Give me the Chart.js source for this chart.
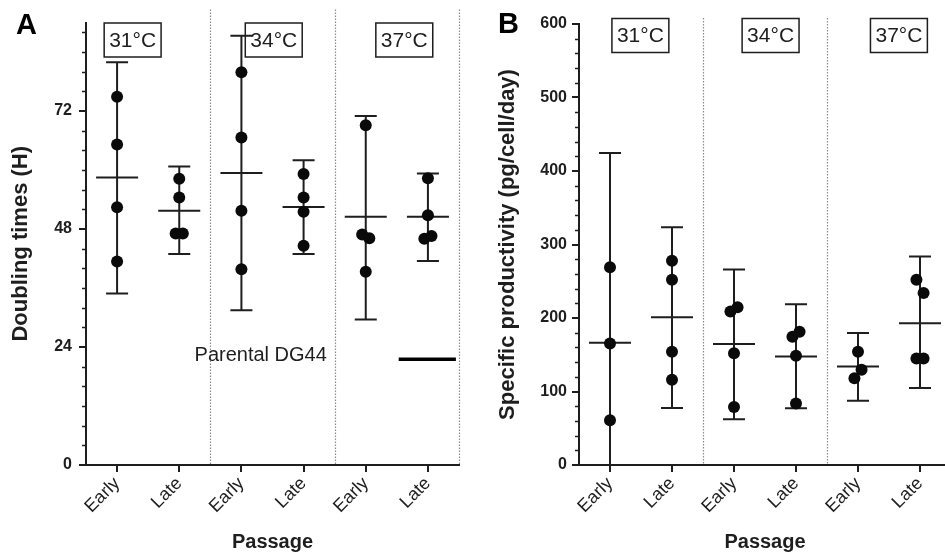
<!DOCTYPE html>
<html><head><meta charset="utf-8">
<script src="https://cdn.jsdelivr.net/npm/chart.js@4.4.1/dist/chart.umd.min.js"></script>
<style>
html,body{margin:0;padding:0;background:#fff;overflow:hidden;width:945px;height:557px;}
#wrap{position:relative;width:945px;height:557px;overflow:hidden;}
canvas{position:absolute;top:0;}
#cA{left:0;} #cB{left:472px;}
</style></head><body>
<div id="wrap"><canvas id="cA" width="472" height="557"></canvas><canvas id="cB" width="490" height="557"></canvas></div>
<script>
// ---------- data ----------
const passages = ['Early', 'Late', 'Early', 'Late', 'Early', 'Late'];
const temperatures = ['31°C', '34°C', '37°C'];

// Panel A: doubling times (H), individual values per group
const doublingValues = [
  [74.9, 65.2, 52.4, 41.4],
  [58.2, 54.4, 47.1, 47.1],
  [79.9, 66.6, 51.7, 39.8],
  [59.2, 54.4, 51.5, 44.6],
  [69.1, 46.9, 46.1, 39.3],
  [58.3, 50.8, 46.0, 46.6]
];
const doublingMean = [58.5, 51.7, 59.4, 52.5, 50.5, 50.5];
const doublingLower = [34.9, 42.9, 31.5, 42.9, 29.6, 41.5];
const doublingUpper = [81.9, 60.7, 87.3, 62.0, 71.0, 59.3];
const parentalDG44 = 21.5;
const doublingTicks = [0, 24, 48, 72];

// Panel B: specific productivity (pg/cell/day)
const productivityValues = [
  [269, 165.4, 61],
  [278, 252, 154, 116],
  [209, 214.5, 152, 79],
  [174.5, 181.4, 148.6, 83.6],
  [154, 118, 129.5],
  [252, 234, 145, 145]
];
const productivityMean = [166.4, 200.9, 164.5, 147.7, 134, 193];
const productivityLower = [-93, 77.7, 62.3, 77.3, 87.3, 104.6];
const productivityUpper = [424.5, 323.6, 266, 218.6, 179.6, 283.6];
const productivityTicks = [0, 100, 200, 300, 400, 500, 600];

// ---------- styling helpers ----------
const FONT = '"Liberation Sans", Arial, Helvetica, sans-serif';
const INK = '#1e1e1e';

// spread overlapping points side by side (like a scatter dot plot)
function spreadPoints(groups, threshold, step) {
  const pts = [];
  groups.forEach((vals, gi) => {
    const order = vals.map((v, i) => i).sort((a, b) => vals[a] - vals[b]);
    const clusters = [];
    order.forEach(i => {
      const last = clusters[clusters.length - 1];
      if (last && Math.abs(vals[i] - vals[last[last.length - 1]]) < threshold) last.push(i);
      else clusters.push([i]);
    });
    clusters.forEach(c => {
      c.sort((a, b) => a - b);
      c.forEach((i, k) => {
        const off = (k - (c.length - 1) / 2) * step;
        pts.push({x: gi + off, y: vals[i]});
      });
    });
  });
  return pts;
}

const decor = {
  id: 'decor',
  beforeDatasetsDraw(chart, args, o) {
    const {ctx, chartArea: a, scales: {x, y}} = chart;
    ctx.save();
    // minor ticks
    ctx.strokeStyle = INK; ctx.lineWidth = 1.5;
    for (let v = 0; v <= y.max + 1e-9; v += o.minorStep) {
      if (o.majorTicks.indexOf(v) >= 0) continue;
      const py = Math.round(y.getPixelForValue(v)) + 0.5;
      ctx.beginPath(); ctx.moveTo(a.left - 4, py); ctx.lineTo(a.left, py); ctx.stroke();
    }
    // dotted dividers between temperatures
    ctx.strokeStyle = '#8c8c8c'; ctx.lineWidth = 1.2; ctx.setLineDash([1.5, 1.5]);
    o.dividers.forEach(d => {
      const px = Math.round(x.getPixelForValue(d)) + 0.5;
      ctx.beginPath(); ctx.moveTo(px, a.top - o.dividerOverhang); ctx.lineTo(px, a.bottom); ctx.stroke();
    });
    ctx.setLineDash([]);
    // temperature boxes
    ctx.font = '21px ' + FONT; ctx.textAlign = 'center'; ctx.textBaseline = 'middle';
    temperatures.forEach((t, i) => {
      const cx = x.getPixelForValue(o.boxX[i]);
      const w = ctx.measureText(t).width + 10, h = 34, top = a.top + o.boxTop;
      ctx.fillStyle = '#fff'; ctx.fillRect(cx - w / 2, top, w, h);
      ctx.strokeStyle = INK; ctx.lineWidth = 1.5; ctx.strokeRect(cx - w / 2, top, w, h);
      ctx.fillStyle = INK; ctx.fillText(t, cx, top + h / 2 + 1);
    });
    // mean and error bars
    ctx.save();
    ctx.beginPath(); ctx.rect(a.left, a.top - 30, a.right - a.left + 30, a.bottom - a.top + 30); ctx.clip();
    ctx.strokeStyle = INK; ctx.lineWidth = 2;
    o.mean.forEach((m, i) => {
      const px = x.getPixelForValue(i);
      const pm = y.getPixelForValue(m), pl = y.getPixelForValue(o.lower[i]), pu = y.getPixelForValue(o.upper[i]);
      ctx.beginPath();
      ctx.moveTo(px, pl); ctx.lineTo(px, pu);
      ctx.moveTo(px - 11, pu); ctx.lineTo(px + 11, pu);
      ctx.moveTo(px - 11, pl); ctx.lineTo(px + 11, pl);
      ctx.moveTo(px - 21, pm); ctx.lineTo(px + 21, pm);
      ctx.stroke();
    });
    ctx.restore();
    // parental reference
    if (o.parental != null) {
      const py = y.getPixelForValue(o.parental);
      ctx.strokeStyle = '#000'; ctx.lineWidth = 3.5;
      ctx.beginPath(); ctx.moveTo(x.getPixelForValue(o.parentalFrom), py); ctx.lineTo(x.getPixelForValue(o.parentalTo), py); ctx.stroke();
      ctx.fillStyle = INK; ctx.font = '20px ' + FONT; ctx.textAlign = 'center'; ctx.textBaseline = 'middle';
      ctx.fillText('Parental DG44', x.getPixelForValue(o.parentalTextX), py - 4);
    }
    ctx.restore();
  },
  afterDraw(chart, args, o) {
    const ctx = chart.ctx;
    ctx.save();
    ctx.fillStyle = '#000'; ctx.font = 'bold 29px ' + FONT; ctx.textAlign = 'left'; ctx.textBaseline = 'alphabetic';
    ctx.fillText(o.letter, o.letterX, o.letterY);
    ctx.restore();
  }
};

function buildChart(id, cfg) {
  return new Chart(document.getElementById(id), {
    type: 'scatter',
    data: {
      datasets: [{
        data: spreadPoints(cfg.values, cfg.jitterThreshold, 0.115),
        pointRadius: 6, pointHoverRadius: 6, backgroundColor: '#0a0a0a', borderWidth: 0
      }]
    },
    options: {
      responsive: false, animation: false, devicePixelRatio: 1,
      layout: {padding: cfg.padding},
      plugins: {
        legend: {display: false}, tooltip: {enabled: false},
        decor: cfg.decor
      },
      scales: {
        x: {
          type: 'linear', min: -0.5, max: 5.5,
          afterBuildTicks: s => { s.ticks = passages.map((p, i) => ({value: i})); },
          afterFit: s => { s.height = 92; s.paddingLeft = 0; s.paddingRight = 0; },
          ticks: {
            autoSkip: false, maxRotation: 45, minRotation: 45, padding: 1,
            color: INK, font: {family: FONT, size: 18},
            callback: v => passages[v]
          },
          grid: {drawOnChartArea: false, drawTicks: true, tickLength: 7, color: INK, lineWidth: 2},
          border: {display: true, color: INK, width: 2},
          title: {display: true, text: 'Passage', color: INK, font: {family: FONT, size: 20, weight: 'bold'}, padding: {top: 0, bottom: 3}}
        },
        y: {
          min: 0, max: cfg.yMax,
          afterBuildTicks: s => { s.ticks = cfg.ticks.map(v => ({value: v})); },
          afterFit: s => { s.width = cfg.yWidth; s.paddingTop = 0; s.paddingBottom = 0; },
          ticks: {padding: cfg.tickPad, color: INK, font: {family: FONT, size: 16, weight: 'bold'}},
          grid: {drawOnChartArea: false, drawTicks: true, tickLength: 7, color: INK, lineWidth: 2},
          border: {display: true, color: INK, width: 2},
          title: {display: true, text: cfg.yTitle, color: INK, font: {family: FONT, size: 22, weight: 'bold'}, padding: {top: cfg.titlePad, bottom: 0}}
        }
      }
    },
    plugins: [decor]
  });
}

buildChart('cA', {
  values: doublingValues, jitterThreshold: 2.5,
  yMax: 90, ticks: doublingTicks, yWidth: 86, tickPad: 7, titlePad: 8,
  yTitle: 'Doubling times (H)',
  padding: {left: 0, right: 13, top: 22.5, bottom: 0},
  decor: {
    minorStep: 4, majorTicks: doublingTicks, dividers: [1.5, 3.5, 5.5], dividerOverhang: 13,
    boxX: [0.25, 2.52, 4.62], boxTop: 0.5,
    mean: doublingMean, lower: doublingLower, upper: doublingUpper,
    parental: parentalDG44, parentalFrom: 4.53, parentalTo: 5.45, parentalTextX: 2.31,
    letter: 'A', letterX: 16, letterY: 34
  }
});

buildChart('cB', {
  values: productivityValues, jitterThreshold: 20,
  yMax: 600, ticks: productivityTicks, yWidth: 107, tickPad: 5, titlePad: 23,
  yTitle: 'Specific productivity (pg/cell/day)',
  padding: {left: 0, right: 11, top: 24, bottom: 0},
  decor: {
    minorStep: 20, majorTicks: productivityTicks, dividers: [1.5, 3.5, 5.5], dividerOverhang: 6,
    boxX: [0.49, 2.59, 4.66], boxTop: -5.5,
    mean: productivityMean, lower: productivityLower, upper: productivityUpper,
    parental: null,
    letter: 'B', letterX: 26, letterY: 33
  }
});
</script>
</body></html>
